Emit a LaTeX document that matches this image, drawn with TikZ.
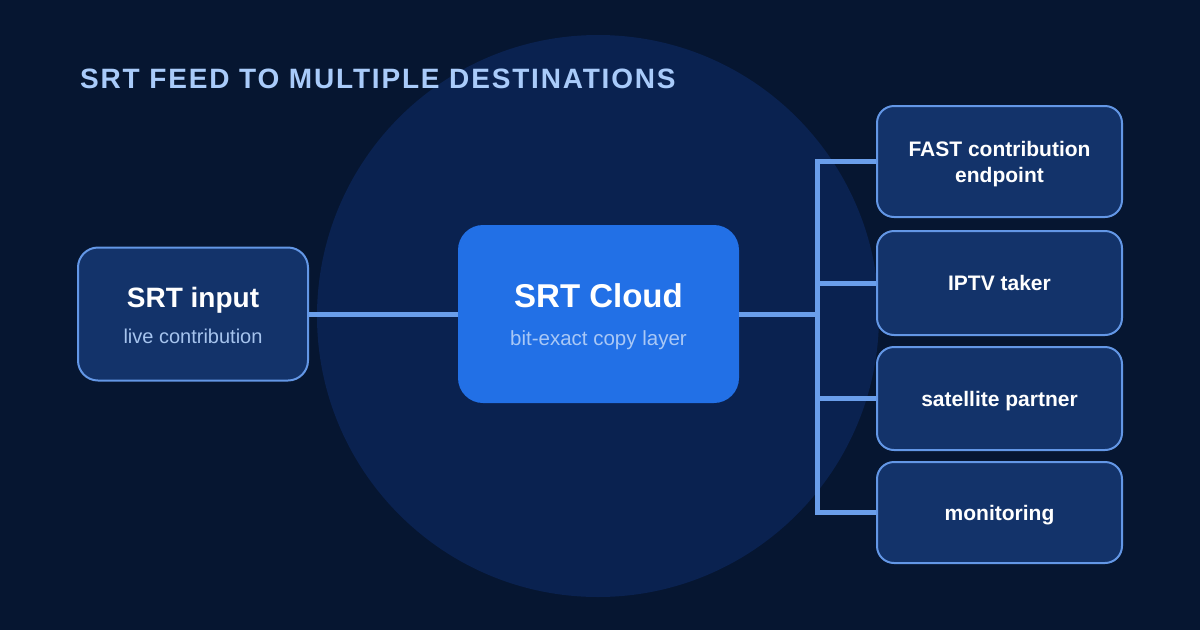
\documentclass[tikz,border=0pt]{standalone}
\usepackage{fontspec}
\setmainfont{Liberation Sans}
\newfontfamily\titlefont{Liberation Sans}[LetterSpace=6.5]
\definecolor{bgcol}{HTML}{061631}
\definecolor{circcol}{HTML}{0A2250}
\definecolor{boxfill}{HTML}{13336A}
\definecolor{boxline}{HTML}{6397E6}
\definecolor{cloudfill}{HTML}{2270E6}
\definecolor{conncol}{HTML}{6A9EEA}
\definecolor{titlecol}{HTML}{A9CBFA}
\definecolor{subcol}{HTML}{A6C4EE}
\definecolor{cloudsub}{HTML}{A9C8F6}
\tikzset{
  srcbox/.style={draw=boxline, line width=2pt, fill=boxfill, rounded corners=20pt, inner sep=0pt},
  dstbox/.style={draw=boxline, line width=2pt, fill=boxfill, rounded corners=17pt, inner sep=0pt,
                 minimum width=245pt},
  cloudbox/.style={fill=cloudfill, rounded corners=25pt, inner sep=0pt},
  conn/.style={draw=conncol, line width=5pt, line join=miter},
  headtxt/.style={anchor=base, inner sep=0pt, text=white, font=\bfseries\fontsize{28}{32}\selectfont},
  subtxt/.style={anchor=base, inner sep=0pt, text=subcol, font=\fontsize{20}{24}\selectfont},
  dsttxt/.style={anchor=base, inner sep=0pt, text=white, font=\bfseries\fontsize{21}{26}\selectfont},
}
\begin{document}
\begin{tikzpicture}[x=1pt,y=-1pt]
\fill[bgcol] (0,0) rectangle (1200,630);
\useasboundingbox (0,0) rectangle (1200,630);
\fill[circcol] (598,316) circle[radius=281pt];

\node[anchor=base west, inner sep=0pt, text=titlecol, font=\titlefont\bfseries\fontsize{28}{32}\selectfont] (title) at (80,88) {SRT FEED TO MULTIPLE DESTINATIONS};

% source box
\node[srcbox, minimum width=230pt, minimum height=133pt] (in) at (193,314) {};
\node[headtxt] (intitle) at (193,307) {SRT input};
\node[subtxt] (insub) at (193,343) {live contribution};

% cloud
\node[cloudbox, minimum width=281pt, minimum height=178pt] (cloud) at (598.5,314) {};
\node[headtxt, font=\bfseries\fontsize{33}{38}\selectfont] (cloudtitle) at (598.5,307) {SRT Cloud};
\node[subtxt, text=cloudsub, font=\fontsize{20.5}{24}\selectfont] (cloudsubt) at (598.5,345) {bit-exact copy layer};

% destinations
\node[dstbox, minimum height=111pt] (d1) at (999.5,161.5) {};
\node[dstbox, minimum height=104pt] (d2) at (999.5,283) {};
\node[dstbox, minimum height=103pt] (d3) at (999.5,398.5) {};
\node[dstbox, minimum height=101pt] (d4) at (999.5,512.5) {};
\node[dsttxt] (t1a) at (999.5,156) {FAST contribution};
\node[dsttxt] (t1b) at (999.5,182) {endpoint};
\node[dsttxt] (t2) at (999.5,290) {IPTV taker};
\node[dsttxt] (t3) at (999.5,406) {satellite partner};
\node[dsttxt] (t4) at (999.5,520) {monitoring};

% connectors
\coordinate (bus) at (817,314);
\draw[conn] (in.east) -- (cloud.west);
\draw[conn] (cloud.east) -- (bus);
\draw[conn] (d1.west) -- (d1.west -| bus) -- (d4.west -| bus) -- (d4.west);
\draw[conn] (d2.west -| bus) -- (d2.west);
\draw[conn] (d3.west -| bus) -- (d3.west);
\end{tikzpicture}
\end{document}
